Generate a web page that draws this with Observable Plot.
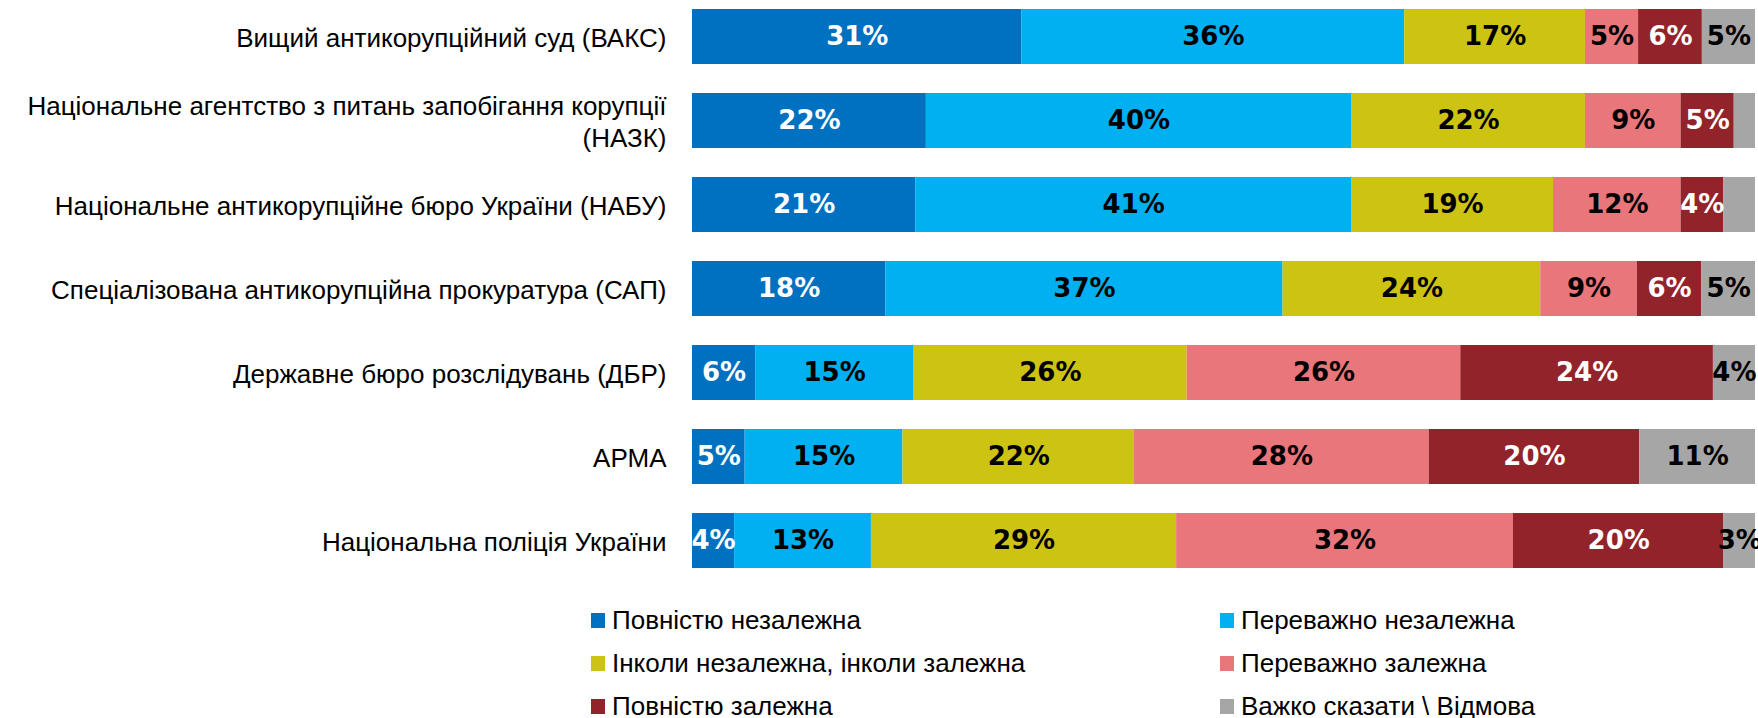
<!DOCTYPE html>
<html><head><meta charset="utf-8">
<script src="https://cdn.jsdelivr.net/npm/d3@7"></script>
<script src="https://cdn.jsdelivr.net/npm/@observablehq/plot@0.6"></script>
<style>
body{margin:0;background:#fff;}
#legend{display:grid;grid-template-columns:629px auto;margin-left:591px;margin-top:9px;font-family:"Liberation Sans";font-size:26px;color:#000;}
.item{height:43px;display:flex;align-items:center;white-space:nowrap;}
.sw{width:14px;height:15px;margin-right:7px;flex:none;}
</style></head><body>
<div id="chart"></div><div id="legend"></div>
<script>
const categories = [
  "Вищий антикорупційний суд (ВАКС)",
  "Національне агентство з питань запобігання корупції\n(НАЗК)",
  "Національне антикорупційне бюро України (НАБУ)",
  "Спеціалізована антикорупційна прокуратура (САП)",
  "Державне бюро розслідувань (ДБР)",
  "АРМА",
  "Національна поліція України"
];
const seriesNames = [
  "Повністю незалежна",
  "Переважно незалежна",
  "Інколи незалежна, інколи залежна",
  "Переважно залежна",
  "Повністю залежна",
  "Важко сказати \\ Відмова"
];
const seriesColors = ["#0070C0", "#00B0F0", "#CCC312", "#E8767A", "#93232A", "#A6A6A6"];
const fullyIndependent  = [31, 22, 21, 18, 6, 5, 4];
const mostlyIndependent = [36, 40, 41, 37, 15, 15, 13];
const sometimes         = [17, 22, 19, 24, 26, 22, 29];
const mostlyDependent   = [5, 9, 12, 9, 26, 28, 32];
const fullyDependent    = [6, 5, 4, 6, 24, 20, 20];
const hardToSay         = [5, 2, 3, 5, 4, 11, 3];
// labels not shown in the picture: [category index, series index]
const hiddenLabels = [[1, 5], [2, 5]];
const whiteLabelSeries = [0, 4];

const seriesValues = [fullyIndependent, mostlyIndependent, sometimes, mostlyDependent, fullyDependent, hardToSay];
const data = [];
seriesValues.forEach((vals, s) => {
  vals.forEach((v, c) => {
    data.push({
      category: categories[c],
      series: seriesNames[s],
      value: v,
      si: s,
      show: !hiddenLabels.some(([hc, hs]) => hc === c && hs === s)
    });
  });
});

const stackOpts = {x: "value", y: "category", offset: "normalize"};
const labelStyle = {fontFamily: "DejaVu Sans", fontWeight: "bold", fontSize: 26};

const plot = Plot.plot({
  width: 1758,
  height: 590,
  marginLeft: 692,
  marginRight: 3,
  marginTop: 0,
  marginBottom: 13,
  style: {fontFamily: "Liberation Sans", background: "white"},
  x: {axis: null, domain: [0, 1]},
  y: {domain: categories, axis: null, paddingInner: 0.35, paddingOuter: 0.08},
  color: {domain: seriesNames, range: seriesColors},
  marks: [
    Plot.barX(data, Plot.stackX({...stackOpts, fill: "series"})),
    Plot.text(data, Plot.stackX({...stackOpts, ...labelStyle, fill: "white",
      text: d => (d.show && whiteLabelSeries.includes(d.si)) ? d.value + "%" : null})),
    Plot.text(data, Plot.stackX({...stackOpts, ...labelStyle, fill: "black",
      text: d => (d.show && !whiteLabelSeries.includes(d.si)) ? d.value + "%" : null})),
    Plot.text(categories, {y: d => d, text: d => d, frameAnchor: "left", textAnchor: "end",
      dx: -26, fontSize: 26, lineHeight: 1.23, fill: "black", ariaLabel: "cat-labels"})
  ]
});
document.getElementById("chart").appendChild(plot);

// center the lines of multi-line category labels (block stays right-aligned)
plot.querySelectorAll('g[aria-label="cat-labels"] text').forEach(t => {
  const spans = t.querySelectorAll("tspan");
  if (spans.length > 1) {
    const bb = t.getBBox();
    const cx = bb.x + bb.width / 2;
    t.setAttribute("text-anchor", "middle");
    spans.forEach(sp => sp.setAttribute("x", cx));
  }
});

const legend = document.getElementById("legend");
seriesNames.forEach((name, i) => {
  const item = document.createElement("div");
  item.className = "item";
  const sw = document.createElement("span");
  sw.className = "sw";
  sw.style.background = seriesColors[i];
  const label = document.createElement("span");
  label.textContent = name;
  item.appendChild(sw);
  item.appendChild(label);
  legend.appendChild(item);
});
</script>
</body></html>
